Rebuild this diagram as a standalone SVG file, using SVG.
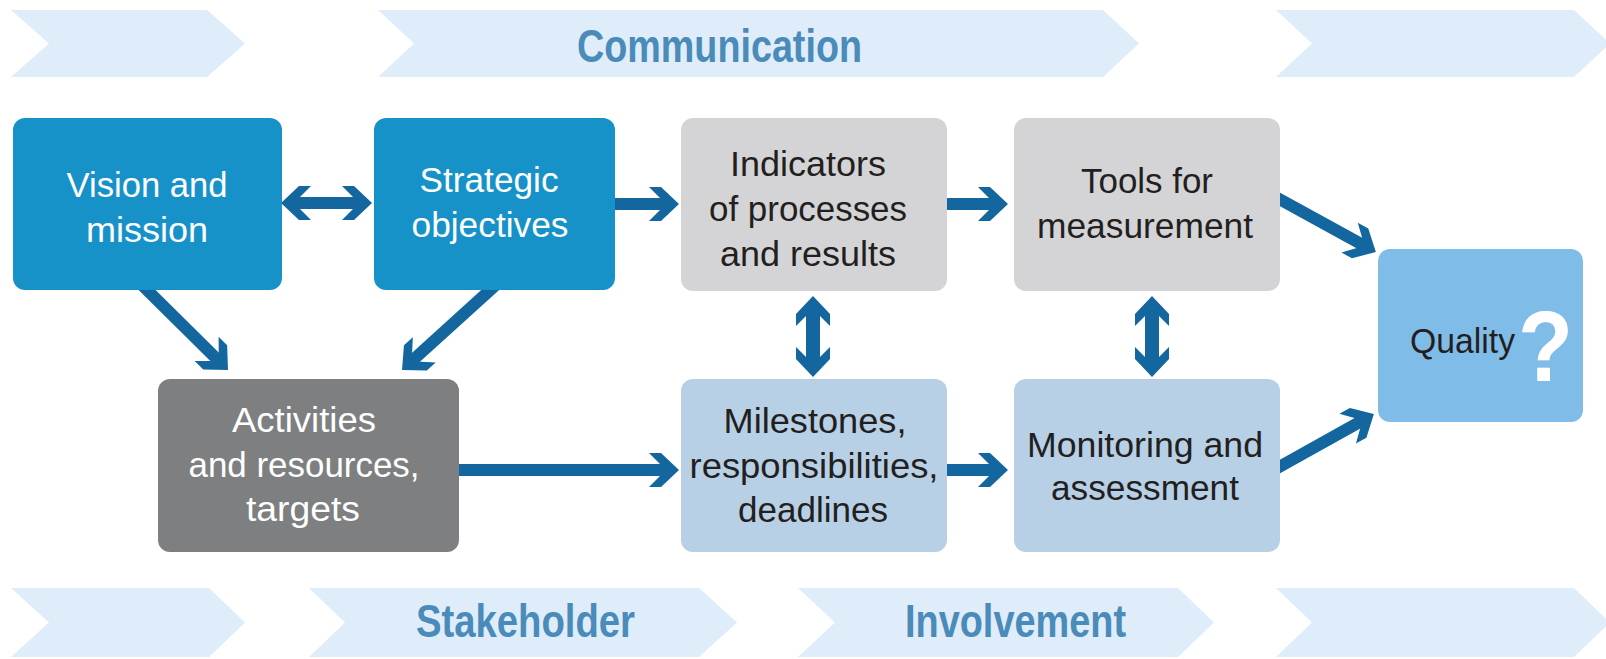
<svg xmlns="http://www.w3.org/2000/svg" width="1606" height="659" viewBox="0 0 1606 659">
<style>
.band{fill:#deedf9}
.bandtxt{font-family:"Liberation Sans Narrow","Liberation Sans",Arial,sans-serif;font-weight:bold;font-size:47px;fill:#4a8bba;text-anchor:middle}
.t{font-family:"Liberation Sans","Arimo",Arial,sans-serif;font-size:35px;text-anchor:middle}
.w{fill:#ffffff}
.d{fill:#231f20}
.blue{fill:#1692c9}
.gray{fill:#d4d4d6}
.dark{fill:#7e7f81}
.light{fill:#b7d0e6}
.q{fill:#80bce8}
.conn line{stroke:#13679e;stroke-width:12;fill:none}
.conn line.v{stroke-width:14}
</style>
<defs>
<marker id="ah" viewBox="-31 -18 32 36" refX="-9" refY="0" markerWidth="32" markerHeight="36" markerUnits="userSpaceOnUse" orient="auto-start-reverse">
<path d="M0,0 L-18,-17 L-30,-17 L-13,0 L-30,17 L-18,17 Z" fill="#13679e"/>
</marker>
</defs>
<g id="bands">
<polygon class="band" points="11,10 207,10 245,43.5 207,77 11,77 49,43.5"/>
<polygon class="band" points="378,10 1103,10 1139,43.5 1103,77 378,77 414,43.5"/>
<polygon class="band" points="1276,10 1574,10 1610,43.5 1574,77 1276,77 1312,43.5"/>
<polygon class="band" points="11,588 209,588 245,622.5 209,657 11,657 49,622.5"/>
<polygon class="band" points="309,588 699,588 737,622.5 699,657 309,657 345,622.5"/>
<polygon class="band" points="798,588 1178,588 1214,622.5 1178,657 798,657 835,622.5"/>
<polygon class="band" points="1276,588 1574,588 1610,622.5 1574,657 1276,657 1312,622.5"/>
<text class="bandtxt" x="719.5" y="62" textLength="285" lengthAdjust="spacingAndGlyphs">Communication</text>
<text class="bandtxt" x="525.5" y="637" textLength="219" lengthAdjust="spacingAndGlyphs">Stakeholder</text>
<text class="bandtxt" x="1015.5" y="637" textLength="221" lengthAdjust="spacingAndGlyphs">Involvement</text>
</g>
<g id="connectors" class="conn">
<line x1="290" y1="203" x2="363" y2="203" marker-start="url(#ah)" marker-end="url(#ah)"/>
<line x1="612" y1="204" x2="670" y2="204" marker-end="url(#ah)"/>
<line x1="945" y1="204" x2="999" y2="204" marker-end="url(#ah)"/>
<line x1="1270" y1="194" x2="1368" y2="247.7" marker-end="url(#ah)"/>
<line x1="138" y1="281" x2="221.6" y2="363.7" marker-end="url(#ah)"/>
<line x1="499" y1="282" x2="408.7" y2="363.9" marker-end="url(#ah)"/>
<line class="v" x1="813" y1="305" x2="813" y2="368" marker-start="url(#ah)" marker-end="url(#ah)"/>
<line class="v" x1="1152" y1="305" x2="1152" y2="368" marker-start="url(#ah)" marker-end="url(#ah)"/>
<line x1="456" y1="470" x2="670" y2="470" marker-end="url(#ah)"/>
<line x1="945" y1="470" x2="999" y2="470" marker-end="url(#ah)"/>
<line x1="1270" y1="472" x2="1366" y2="418.4" marker-end="url(#ah)"/>
</g>
<g id="vision">
<rect class="blue" x="13" y="118" width="269" height="172" rx="12"/>
<text class="t w" x="147" y="197" textLength="161" lengthAdjust="spacingAndGlyphs">Vision and</text>
<text class="t w" x="147" y="242" textLength="122" lengthAdjust="spacingAndGlyphs">mission</text>
</g>
<g id="strategic">
<rect class="blue" x="374" y="118" width="241" height="172" rx="12"/>
<text class="t w" x="489" y="192" textLength="139" lengthAdjust="spacingAndGlyphs">Strategic</text>
<text class="t w" x="490" y="237" textLength="157" lengthAdjust="spacingAndGlyphs">objectives</text>
</g>
<g id="indicators">
<rect class="gray" x="681" y="118" width="266" height="173" rx="12"/>
<text class="t d" x="808" y="176" textLength="156" lengthAdjust="spacingAndGlyphs">Indicators</text>
<text class="t d" x="808" y="221" textLength="198" lengthAdjust="spacingAndGlyphs">of processes</text>
<text class="t d" x="808" y="266" textLength="176" lengthAdjust="spacingAndGlyphs">and results</text>
</g>
<g id="tools">
<rect class="gray" x="1014" y="118" width="266" height="173" rx="12"/>
<text class="t d" x="1147" y="193" textLength="132" lengthAdjust="spacingAndGlyphs">Tools for</text>
<text class="t d" x="1145" y="238" textLength="216" lengthAdjust="spacingAndGlyphs">measurement</text>
</g>
<g id="quality">
<rect class="q" x="1378" y="249" width="205" height="173" rx="12"/>
<text class="t d" x="1462.5" y="353" textLength="105" lengthAdjust="spacingAndGlyphs">Quality</text>
<text x="1545.5" y="381" font-family="Liberation Sans Narrow, Liberation Sans, Arial, sans-serif" font-weight="bold" font-size="100" fill="#ffffff" text-anchor="middle" textLength="55" lengthAdjust="spacingAndGlyphs">?</text>
</g>
<g id="activities">
<rect class="dark" x="158" y="379" width="301" height="173" rx="12"/>
<text class="t w" x="304" y="432" textLength="144" lengthAdjust="spacingAndGlyphs">Activities</text>
<text class="t w" x="304" y="477" textLength="231" lengthAdjust="spacingAndGlyphs">and resources,</text>
<text class="t w" x="303" y="521" textLength="114" lengthAdjust="spacingAndGlyphs">targets</text>
</g>
<g id="milestones">
<rect class="light" x="681" y="379" width="266" height="173" rx="12"/>
<text class="t d" x="815" y="433" textLength="183" lengthAdjust="spacingAndGlyphs">Milestones,</text>
<text class="t d" x="814" y="478" textLength="249" lengthAdjust="spacingAndGlyphs">responsibilities,</text>
<text class="t d" x="813" y="522" textLength="150" lengthAdjust="spacingAndGlyphs">deadlines</text>
</g>
<g id="monitoring">
<rect class="light" x="1014" y="379" width="266" height="173" rx="12"/>
<text class="t d" x="1145" y="457" textLength="236" lengthAdjust="spacingAndGlyphs">Monitoring and</text>
<text class="t d" x="1145" y="500" textLength="188" lengthAdjust="spacingAndGlyphs">assessment</text>
</g>
</svg>
